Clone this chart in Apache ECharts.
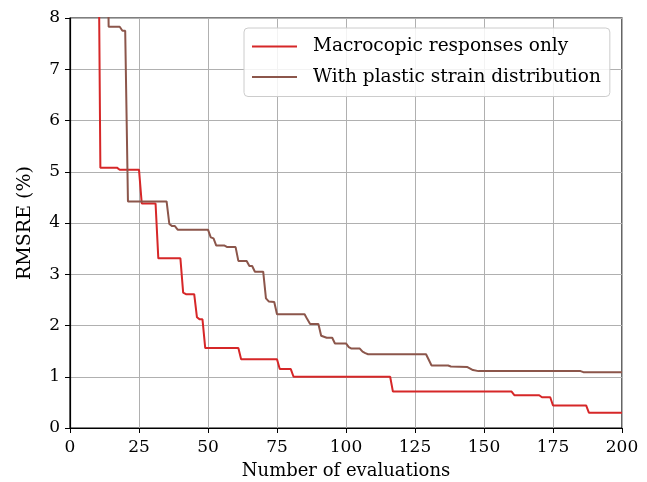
<!DOCTYPE html>
<html>
<head>
<meta charset="utf-8">
<script src="https://cdn.jsdelivr.net/npm/echarts@6/dist/echarts.min.js"></script>
<style>
  html, body { margin: 0; padding: 0; background: #fff; }
  #chart { width: 647px; height: 482px; }
</style>
</head>
<body>
<div id="chart"></div>
<script>
// [evaluation, RMSRE %] — step curves
var macroOnly = [
  [1, 12], [10, 12], [11, 5.08], [17, 5.08], [18, 5.04], [25, 5.04],
  [26, 4.38], [31, 4.38], [32, 3.31], [40, 3.31], [41, 2.64], [42, 2.61],
  [45, 2.61], [46, 2.16], [47, 2.12], [48, 2.12], [49, 1.56], [61, 1.56],
  [62, 1.34], [75, 1.34], [76, 1.15], [80, 1.15], [81, 1.0], [116, 1.0],
  [117, 0.71], [160, 0.71], [161, 0.64], [170, 0.64], [171, 0.6], [174, 0.6],
  [175, 0.44], [187, 0.44], [188, 0.3], [200, 0.3]
];
var withStrain = [
  [1, 12], [13, 12], [14, 7.83], [18, 7.83], [19, 7.75], [20, 7.75],
  [21, 4.42], [35, 4.42], [36, 3.98], [37, 3.94], [38, 3.94], [39, 3.87],
  [50, 3.87], [51, 3.72], [52, 3.70], [53, 3.56], [56, 3.56], [57, 3.53],
  [60, 3.53], [61, 3.26], [64, 3.26], [65, 3.16], [66, 3.16], [67, 3.05],
  [70, 3.05], [71, 2.53], [72, 2.47], [74, 2.46], [75, 2.22], [85, 2.22],
  [86, 2.12], [87, 2.03], [90, 2.03], [91, 1.8], [92, 1.78], [93, 1.76],
  [95, 1.76], [96, 1.65], [100, 1.65], [101, 1.58], [102, 1.55], [105, 1.55],
  [106, 1.49], [107, 1.46], [108, 1.44], [129, 1.44], [131, 1.22], [137, 1.22],
  [138, 1.2], [144, 1.19], [146, 1.13], [148, 1.11], [185, 1.11], [186, 1.09],
  [200, 1.09]
];
var seriesNames = ["Macrocopic responses only", "With plastic strain distribution"];

var font = "'DejaVu Serif', 'Liberation Serif', serif";
var chart = echarts.init(document.getElementById("chart"));
chart.setOption({
  animation: false,
  textStyle: { fontFamily: font },
  grid: {
    left: 70, right: 25, top: 18, bottom: 54,
    outerBoundsMode: "none", containLabel: false,
    show: true, borderColor: "#000", borderWidth: 1.2, backgroundColor: "transparent"
  },
  legend: {
    orient: "vertical",
    left: 244, top: 28,
    padding: [9, 9, 10, 8],
    itemWidth: 45, itemHeight: 2, itemGap: 11.5,
    icon: "rect",
    backgroundColor: "rgba(255,255,255,0.85)",
    borderColor: "#cccccc", borderWidth: 1, borderRadius: 4,
    textStyle: { fontFamily: font, fontSize: 18.5, color: "#000", padding: [0, 0, 0, 11] },
    data: seriesNames
  },
  xAxis: {
    type: "value", min: 0, max: 200, interval: 25,
    name: "Number of evaluations", nameLocation: "middle", nameGap: 34,
    nameTextStyle: { fontFamily: font, fontSize: 18, color: "#000" },
    axisLine: { lineStyle: { color: "#000", width: 1.2 } },
    axisTick: { show: true, length: 5, lineStyle: { color: "#000" } },
    axisLabel: { fontFamily: font, fontSize: 17, color: "#000", margin: 11 },
    splitLine: { show: true, lineStyle: { color: "#b0b0b0", width: 1 } }
  },
  yAxis: {
    type: "value", min: 0, max: 8, interval: 1,
    name: "RMSRE (%)", nameLocation: "middle", nameGap: 35,
    nameTextStyle: { fontFamily: font, fontSize: 19, color: "#000" },
    axisLine: { show: true, lineStyle: { color: "#000", width: 1.2 } },
    axisTick: { show: true, length: 5, lineStyle: { color: "#000" } },
    axisLabel: { fontFamily: font, fontSize: 17, color: "#000", margin: 10 },
    splitLine: { show: true, lineStyle: { color: "#b0b0b0", width: 1 } }
  },
  series: [
    {
      name: seriesNames[0], type: "line", data: macroOnly,
      symbol: "none", clip: true, color: "#d62728",
      lineStyle: { width: 2, color: "#d62728" }
    },
    {
      name: seriesNames[1], type: "line", data: withStrain,
      symbol: "none", clip: true, color: "#8c564b",
      lineStyle: { width: 2, color: "#8c564b" }
    }
  ]
});
</script>
</body>
</html>
